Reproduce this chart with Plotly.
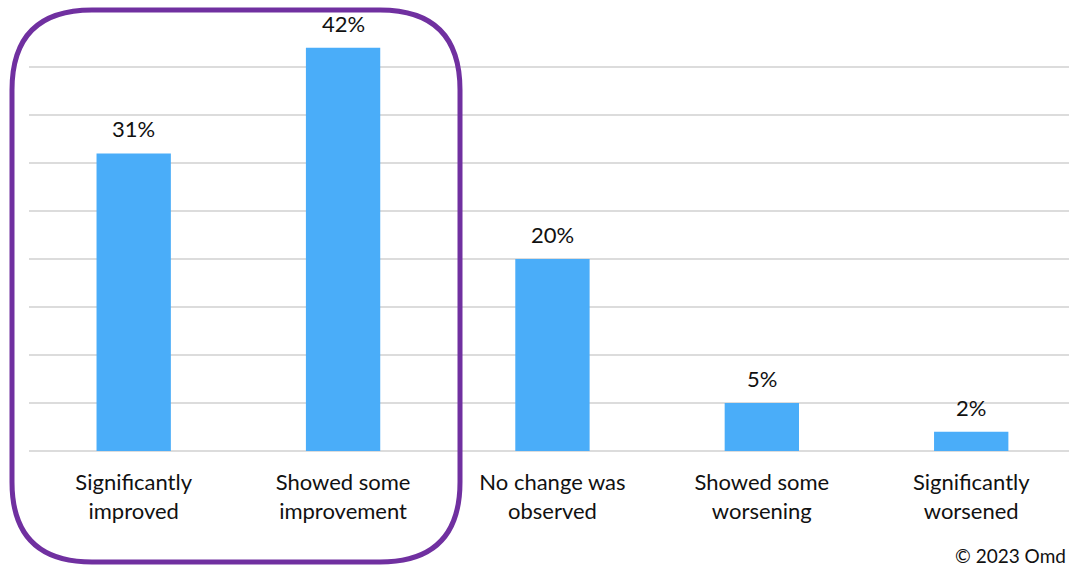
import plotly.graph_objects as go

categories = ["Significantly<br>improved", "Showed some<br>improvement",
              "No change was<br>observed", "Showed some<br>worsening",
              "Significantly<br>worsened"]
values = [31, 42, 20, 5, 2]
value_labels = ["31%", "42%", "20%", "5%", "2%"]

W, H = 1069, 568
M_L, M_R, M_T, M_B = 29, 0, 19, 117
FONT = "Lato, 'Open Sans', sans-serif"

x_idx = list(range(len(categories)))

fig = go.Figure(go.Bar(
    x=x_idx, y=values, width=0.355,
    marker=dict(color="#4AADF9", line=dict(width=0)),
    hoverinfo="skip",
))

for i, (v, t) in enumerate(zip(values, value_labels)):
    fig.add_annotation(x=i, y=v, text=t, showarrow=False, yanchor="bottom",
                       yshift=9, font=dict(size=22, color="#111111", family=FONT))

# highlight box around the improvement categories (pixel geometry -> paper)
pw, ph = W - M_L - M_R, H - M_T - M_B
def px(x):
    return (x - M_L) / pw
def py(y):
    return (H - M_B - y) / ph

x0, x1, y0, y1, r = 12, 460, 10, 562, 80
path = (f"M {px(x0+r)},{py(y0)} L {px(x1-r)},{py(y0)} "
        f"Q {px(x1)},{py(y0)} {px(x1)},{py(y0+r)} "
        f"L {px(x1)},{py(y1-r)} Q {px(x1)},{py(y1)} {px(x1-r)},{py(y1)} "
        f"L {px(x0+r)},{py(y1)} Q {px(x0)},{py(y1)} {px(x0)},{py(y1-r)} "
        f"L {px(x0)},{py(y0+r)} Q {px(x0)},{py(y0)} {px(x0+r)},{py(y0)} Z")
fig.add_shape(type="path", path=path, xref="paper", yref="paper",
              line=dict(color="#7030A0", width=5), layer="above")

fig.add_annotation(x=1, y=0, xref="paper", yref="paper", xanchor="right",
                   yanchor="bottom", yshift=-M_B - 1, xshift=-1,
                   text="© 2023 Omd", showarrow=False,
                   font=dict(size=19, color="#111111", family=FONT))

fig.update_layout(
    width=W, height=H,
    margin=dict(l=M_L, r=M_R, t=M_T, b=M_B),
    plot_bgcolor="white", paper_bgcolor="white",
    showlegend=False,
    xaxis=dict(range=[-0.5, 4.467], tickmode="array", tickvals=x_idx,
               ticktext=categories, showgrid=False, zeroline=False,
               showline=False, ticks="", ticklabelstandoff=16,
               tickfont=dict(size=22, color="#111111", family=FONT)),
    yaxis=dict(range=[0, 45], dtick=5, showticklabels=False,
               gridcolor="#DCDCDC", gridwidth=2, zeroline=True,
               zerolinecolor="#DCDCDC", zerolinewidth=2, showline=False),
)

fig.write_html("out.html")
